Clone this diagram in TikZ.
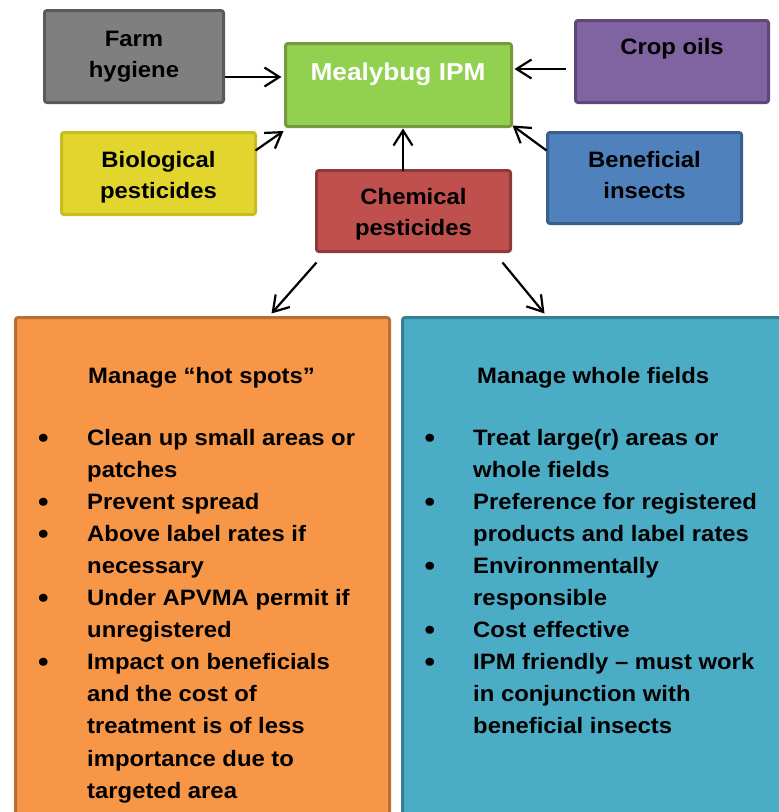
\documentclass[tikz,border=0pt]{standalone}
\usepackage{fontspec}
\setmainfont{Liberation Sans}[FakeStretch=1.07]
\usetikzlibrary{arrows.meta,calc}
\definecolor{farmF}{HTML}{7F7F7F}\definecolor{farmD}{HTML}{5A5A5A}
\definecolor{ipmF}{HTML}{92D050}\definecolor{ipmD}{HTML}{779A3E}
\definecolor{bioF}{HTML}{E2D52E}\definecolor{bioD}{HTML}{C8BC20}
\definecolor{chemF}{HTML}{C0504D}\definecolor{chemD}{HTML}{8E3A38}
\definecolor{cropF}{HTML}{8064A2}\definecolor{cropD}{HTML}{5D4878}
\definecolor{benF}{HTML}{4F81BD}\definecolor{benD}{HTML}{3A5F8C}
\definecolor{orF}{HTML}{F79646}\definecolor{orD}{HTML}{B86F36}
\definecolor{blF}{HTML}{4BACC6}\definecolor{blD}{HTML}{367F93}
\newcommand{\bigbul}{\raisebox{-2.2pt}{\fontsize{28}{28}\selectfont\textbullet}}
\begin{document}
\begin{tikzpicture}[x=1pt,y=-1pt,
  box/.style={line width=3pt, rounded corners=2.5pt, inner sep=0pt},
  lbl/.style={font=\bfseries\fontsize{22.3}{31}\selectfont, align=center, anchor=base, inner sep=0pt},
  txt/.style={font=\bfseries\fontsize{22.3}{32.1}\selectfont, anchor=base west, inner sep=0pt},
  arr/.style={line width=2.2pt, -{Straight Barb[length=15pt,width=19pt,line width=2.2pt]}}]
\useasboundingbox (0,0) rectangle (779,812);
% boxes
\node[box, draw=farmD, fill=farmF, minimum width=179pt, minimum height=92pt] (farm) at (134,56.5) {};
\node[box, draw=ipmD, fill=ipmF, minimum width=226pt, minimum height=83pt] (ipm) at (398.5,85) {};
\node[box, draw=bioD, fill=bioF, minimum width=194pt, minimum height=82pt] (bio) at (158.5,173.5) {};
\node[box, draw=chemD, fill=chemF, minimum width=194pt, minimum height=81pt] (chem) at (413.5,211) {};
\node[box, draw=cropD, fill=cropF, minimum width=193pt, minimum height=82pt] (crop) at (672,61.5) {};
\node[box, draw=benD, fill=benF, minimum width=194pt, minimum height=91pt] (ben) at (644.5,178) {};
\node[box, draw=orD, fill=orF, minimum width=374pt, minimum height=520pt] (orange) at (202.5,577.5) {};
\node[box, draw=blD, fill=blF, minimum width=400pt, minimum height=520pt] (blue) at (602.5,577.5) {};
% labels (anchor at baseline of last line)
\node[lbl] (farmT) at (134,77) {Farm\\hygiene};
\node[lbl, text=white, font=\bfseries\fontsize{24.5}{30}\selectfont] (ipmT) at (398,80) {Mealybug IPM};
\node[lbl] (bioT) at (158.5,198) {Biological\\pesticides};
\node[lbl] (chemT) at (413.5,235) {Chemical\\pesticides};
\node[lbl] (cropT) at (672,54) {Crop oils};
\node[lbl] (benT) at (644.5,198) {Beneficial\\insects};
% arrows
\draw[arr] ($(farm.east)+(0,20.5)$) -- ($(ipm.west)+(-2.5,-8)$);
\draw[arr] ($(crop.west)+(-8,7.5)$) -- ($(ipm.east)+(1.5,-16)$);
\draw[arr] ($(bio.north east)+(-1.5,19.5)$) -- ($(ipm.south west)+(-0.5,3)$);
\draw[arr] ($(ben.north west)+(0.5,19.5)$) -- ($(ipm.south east)+(-0.5,-2.5)$);
\draw[arr] ($(chem.north)+(-10.5,1.5)$) -- ($(ipm.south)+(4.5,0.5)$);
\draw[arr] ($(chem.south west)+(1.5,9.5)$) -- ($(orange.north west)+(257.5,-2.5)$);
\draw[arr] ($(chem.south east)+(-9.5,9.5)$) -- ($(blue.north west)+(143.5,-2.5)$);
% orange content
\node[txt] (oTitle) at (88,383) {Manage “hot spots”};
\node[txt] (oList) at (38,445) {\begin{tabular}[t]{@{}p{49pt}@{}l@{}}
\bigbul & Clean up small areas or\\
 & patches\\
\bigbul & Prevent spread\\
\bigbul & Above label rates if\\
 & necessary\\
\bigbul & Under APVMA permit if\\
 & unregistered\\
\bigbul & Impact on beneficials\\
 & and the cost of\\
 & treatment is of less\\
 & importance due to\\
 & targeted area
\end{tabular}};
% blue content
\node[txt] (bTitle) at (477,383) {Manage whole fields};
\node[txt] (bList) at (424.5,445) {\begin{tabular}[t]{@{}p{48.5pt}@{}l@{}}
\bigbul & Treat large(r) areas or\\
 & whole fields\\
\bigbul & Preference for registered\\
 & products and label rates\\
\bigbul & Environmentally\\
 & responsible\\
\bigbul & Cost effective\\
\bigbul & IPM friendly – must work\\
 & in conjunction with\\
 & beneficial insects
\end{tabular}};
\end{tikzpicture}
\end{document}
